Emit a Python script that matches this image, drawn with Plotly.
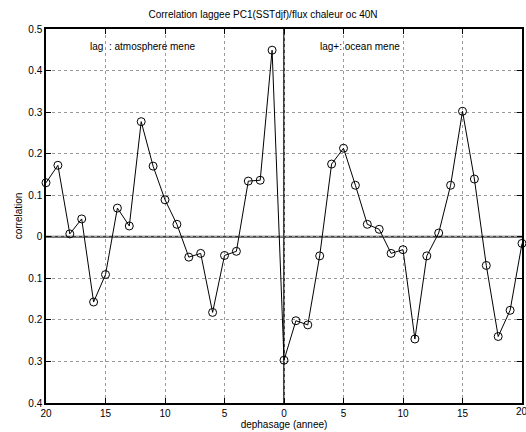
import plotly.graph_objects as go

# Lagged correlation between PC1(SSTdjf) and ocean heat flux at 40N
lags = list(range(-20, 21))
correlation = [
    0.130, 0.172, 0.007, 0.043, -0.157, -0.091, 0.069, 0.026, 0.277, 0.170,
    0.089, 0.030, -0.049, -0.040, -0.182, -0.045, -0.035, 0.134, 0.136, 0.449,
    -0.297, -0.202, -0.212, -0.046, 0.175, 0.213, 0.124, 0.030, 0.018, -0.040,
    -0.031, -0.246, -0.046, 0.009, 0.124, 0.302, 0.139, -0.069, -0.240, -0.177,
    -0.016,
]

x_ticks = [-20, -15, -10, -5, 0, 5, 10, 15, 20]
x_ticktext = ["20", "15", "10", "5", "0", "5", "10", "15", "20"]
y_ticks = [-0.4, -0.3, -0.2, -0.1, 0, 0.1, 0.2, 0.3, 0.4, 0.5]
y_ticktext = ["0.4", "0.3", "0.2", "0.1", "0", "0.1", "0.2", "0.3", "0.4", "0.5"]

font_family = "Liberation Sans, Arial, sans-serif"

fig = go.Figure()

# zero reference lines
fig.add_shape(type="line", x0=-20, x1=20, y0=0, y1=0, xref="x", yref="y",
              line=dict(color="#404040", width=2), layer="below")
fig.add_shape(type="line", x0=0, x1=0, y0=-0.4, y1=0.5, xref="x", yref="y",
              line=dict(color="#404040", width=2), layer="below")

fig.add_trace(go.Scatter(
    x=lags, y=correlation, mode="lines+markers",
    line=dict(color="black", width=1),
    marker=dict(symbol="circle-open", size=8, color="black", line=dict(width=1)),
    showlegend=False, cliponaxis=False,
))

fig.add_annotation(x=-16.5, y=0.457, text="lag  : atmosphere mene", showarrow=False,
                   xanchor="left", yanchor="middle", font=dict(size=10, color="black"))
fig.add_annotation(x=2.85, y=0.457, text="lag+: ocean mene", showarrow=False,
                   xanchor="left", yanchor="middle", font=dict(size=10, color="black"))

# the last x tick label sits at the page edge, so it is drawn as an annotation
fig.add_annotation(x=x_ticks[-1], y=0, xref="x", yref="paper", text=x_ticktext[-1],
                   showarrow=False, xanchor="center", yanchor="top", yshift=-1,
                   font=dict(size=10, color="black"))

axis_common = dict(
    showline=True, linecolor="black", linewidth=1.5, mirror="ticks",
    ticks="inside", ticklen=5, tickcolor="black", tickwidth=1,
    showgrid=True, gridcolor="#9a9a9a", griddash="dot", gridwidth=1,
    zeroline=False, tickfont=dict(size=10, color="black"), automargin=False,
)

fig.update_xaxes(range=[-20, 20], tickvals=x_ticks[:-1], ticktext=x_ticktext[:-1],
                 title=dict(text="dephasage (annee)", font=dict(size=10, color="black"), standoff=2),
                 **axis_common)
fig.update_yaxes(range=[-0.4, 0.5], tickvals=y_ticks, ticktext=y_ticktext,
                 title=dict(text="correlation", font=dict(size=10, color="black"), standoff=4),
                 **axis_common)

fig.update_layout(
    width=526, height=432,
    margin=dict(l=46, r=4, t=29, b=29, autoexpand=False),
    paper_bgcolor="white", plot_bgcolor="white",
    font=dict(family=font_family, size=10, color="black"),
    title=dict(text="Correlation laggee PC1(SSTdjf)/flux chaleur oc 40N",
               x=0.5, xanchor="center", y=1 - 14 / 432, yanchor="middle",
               font=dict(size=10, color="black")),
)

fig.write_html("out.html")
